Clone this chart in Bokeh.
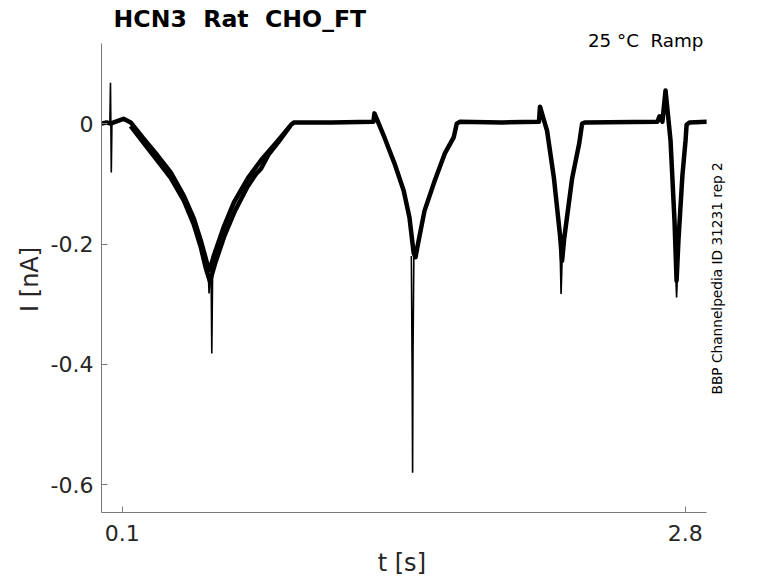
import math
from bokeh.plotting import figure
from bokeh.models import Range1d, FixedTicker, Label
from bokeh.embed import file_html
from bokeh.resources import INLINE

# ---- data (t in s, I in nA) ----
t_main = [0.000, 0.024, 0.043, 0.082, 0.106, 0.140, 0.202, 0.269, 0.332, 0.395,
          0.443, 0.476, 0.500, 0.515, 0.525, 0.539, 0.587, 0.635, 0.703, 0.765,
          0.847, 0.909, 0.924, 1.102, 1.304, 1.309, 1.357, 1.405, 1.449, 1.477,
          1.497, 1.506, 1.516, 1.549, 1.598, 1.646, 1.689, 1.704, 1.718, 1.920,
          2.098, 2.103, 2.137, 2.170, 2.199, 2.209, 2.219, 2.257, 2.291, 2.305,
          2.320, 2.666, 2.676, 2.690, 2.705, 2.729, 2.748, 2.758, 2.767, 2.786,
          2.801, 2.806, 2.820, 2.902]
i_main = [0.000, 0.002, 0.000, 0.005, 0.008, 0.002, -0.025, -0.053, -0.081, -0.120,
          -0.158, -0.194, -0.224, -0.244, -0.236, -0.219, -0.171, -0.131, -0.090, -0.061,
          -0.028, -0.002, 0.002, 0.002, 0.003, 0.017, -0.023, -0.066, -0.111, -0.156,
          -0.215, -0.222, -0.203, -0.145, -0.095, -0.050, -0.023, 0.000, 0.003, 0.002,
          0.003, 0.028, -0.012, -0.091, -0.186, -0.228, -0.191, -0.091, -0.033, 0.000,
          0.002, 0.003, 0.012, 0.003, 0.055, -0.028, -0.161, -0.261, -0.194, -0.086,
          -0.028, -0.002, 0.002, 0.003]

# second sweep visible in the first, slow dip
t_sweep2 = [0.140, 0.202, 0.269, 0.332, 0.395, 0.443, 0.476, 0.500, 0.520, 0.545,
            0.590, 0.640, 0.700, 0.740, 0.765, 0.800, 0.850, 0.905]
i_sweep2 = [-0.004, -0.032, -0.062, -0.090, -0.128, -0.168, -0.205, -0.240, -0.262, -0.232,
            -0.186, -0.145, -0.105, -0.084, -0.075, -0.052, -0.030, -0.004]

# thin spikes (artifact and peak transients)
spike_t = [[0.040, 0.043, 0.047, 0.050],
           [0.510, 0.516, 0.521, 0.526, 0.529, 0.533],
           [1.486, 1.490, 1.492, 1.494, 1.498],
           [2.198, 2.202, 2.204, 2.207, 2.211],
           [2.753, 2.756, 2.758, 2.761, 2.764]]
spike_i = [[0.000, 0.068, -0.081, 0.000],
           [-0.235, -0.282, -0.250, -0.265, -0.382, -0.245],
           [-0.220, -0.420, -0.580, -0.380, -0.220],
           [-0.190, -0.250, -0.283, -0.250, -0.200],
           [-0.230, -0.270, -0.289, -0.262, -0.220]]

x_ticks = [0.1, 2.8]
x_tick_labels = ["0.1", "2.8"]
y_ticks = [0.0, -0.2, -0.4, -0.6]
y_tick_labels = ["0", "-0.2", "-0.4", "-0.6"]
x_limits = (0.0, 2.9)
y_limits = (-0.646, 0.133)

NB = "\u00a0"
title_text = "HCN3" + NB * 2 + "Rat" + NB * 2 + "CHO_FT"
cond_text = "25 °C" + NB * 2 + "Ramp"
id_text = "BBP Channelpedia ID 31231 rep 2"
# labels are centred on the (extended) frame; trailing no-break spaces shift
# the visible text back to the centre of the drawn axes
x_label = "t [s]" + NB * 10
y_label = "I [nA]" + NB * 6

FONT = "DejaVu Sans"

# frame extends to the top / right edge so the annotations are not clipped;
# the visible axes are limited to the data limits with `bounds`
p = figure(width=778, height=583, output_backend="svg", toolbar_location=None,
           x_range=Range1d(0.0, 3.2468), y_range=Range1d(-0.646, 0.2045),
           min_border_left=101, min_border_right=0, min_border_top=0,
           min_border_bottom=71)
p.outline_line_color = None
p.xgrid.visible = False
p.ygrid.visible = False
p.background_fill_color = "white"
p.border_fill_color = "white"

for ax in (p.xaxis[0], p.yaxis[0]):
    ax.axis_line_color = "#7a7a7a"
    ax.axis_line_width = 1
    ax.major_tick_line_color = "#7a7a7a"
    ax.major_tick_in = 6
    ax.major_tick_out = 0
    ax.minor_tick_line_color = None
    ax.major_label_text_font = FONT
    ax.major_label_text_font_size = "22px"
    ax.major_label_text_color = "#262626"
    ax.axis_label_text_font = FONT
    ax.axis_label_text_font_size = "24px"
    ax.axis_label_text_font_style = "normal"
    ax.axis_label_text_color = "#262626"

p.xaxis.bounds = x_limits
p.xaxis.ticker = FixedTicker(ticks=x_ticks)
p.xaxis.major_label_overrides = dict(zip(x_ticks, x_tick_labels))
p.xaxis.major_label_standoff = 12
p.xaxis.axis_label = x_label
p.xaxis.axis_label_standoff = 5

p.yaxis.bounds = y_limits
p.yaxis.ticker = FixedTicker(ticks=y_ticks)
p.yaxis.major_label_overrides = dict(zip(y_ticks, y_tick_labels))
p.yaxis.major_label_standoff = 8
p.yaxis.axis_label = y_label
p.yaxis.axis_label_standoff = 4

p.line(t_sweep2, i_sweep2, line_color="black", line_width=4.5, line_join="round")
p.line(t_main, i_main, line_color="black", line_width=4.5, line_join="round")
p.multi_line(spike_t, spike_i, line_color="black", line_width=1.6)

p.add_layout(Label(x=0.058, y=0.1745, text=title_text, text_font=FONT,
                   text_font_size="23.6px", text_font_style="bold",
                   text_color="black", text_baseline="middle", text_align="left"))
p.add_layout(Label(x=2.887, y=0.138, text=cond_text, text_font=FONT,
                   text_font_size="18.3px", text_color="black",
                   text_baseline="middle", text_align="right"))
p.add_layout(Label(x=2.952, y=-0.257, text=id_text, text_font=FONT,
                   text_font_size="13.7px", text_color="black", angle=math.pi / 2,
                   text_baseline="middle", text_align="center"))

open("out.html", "w").write(file_html(p, INLINE))
